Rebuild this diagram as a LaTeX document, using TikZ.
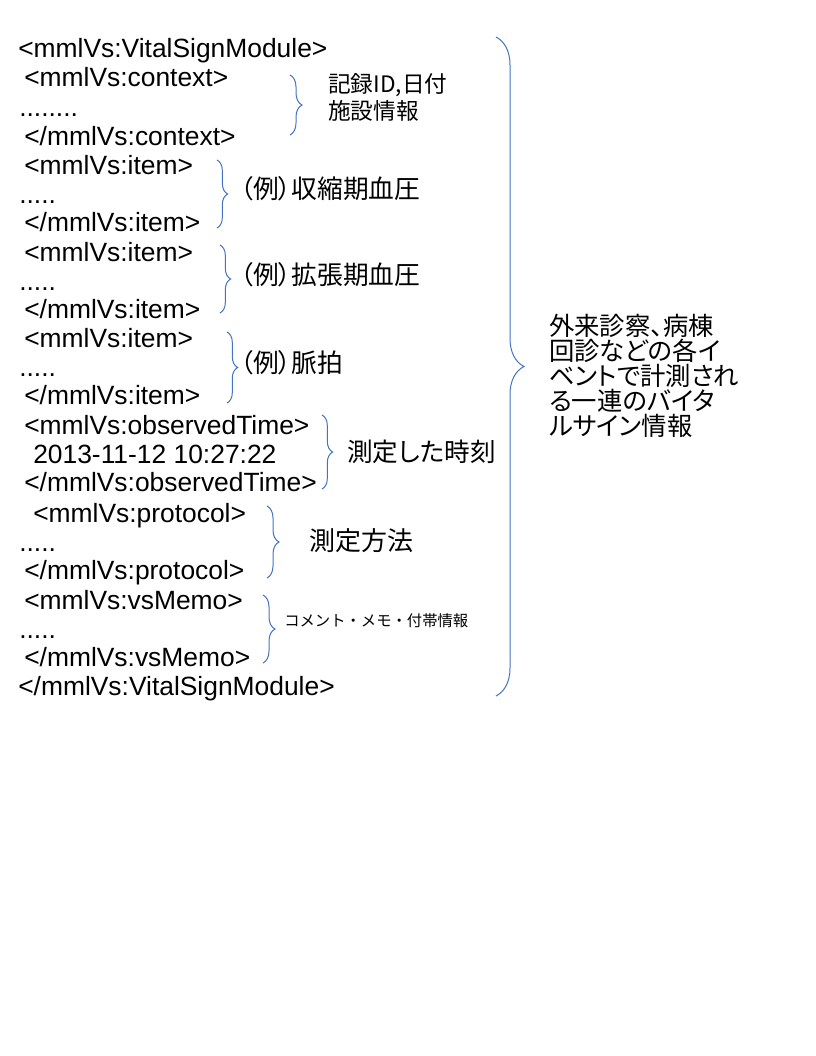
\documentclass[tikz,border=0pt]{standalone}
\usepackage{fontspec}
\setmainfont{Liberation Sans}
\newfontfamily\jpfont{Noto Sans CJK JP}
\newfontfamily\jppfont[RawFeature=+palt]{Noto Sans CJK JP}
\usetikzlibrary{decorations.pathreplacing}
\definecolor{braceblue}{RGB}{68,114,196}
\tikzset{
  tag/.style={anchor=base west,inner sep=0pt,font=\fontsize{19.8}{24}\selectfont},
  note/.style={anchor=base west,inner sep=0pt,align=left,font=\jppfont\fontsize{#1}{#1}\selectfont},
  brc/.style={draw=braceblue,line width=0.75pt,decorate,decoration={brace,amplitude=#1}}
}
\begin{document}
\begin{tikzpicture}[x=0.75pt,y=-0.75pt]
  \useasboundingbox[fill=white] (0,0) rectangle (816,1056);
  % xml lines
  \node[tag] (vsopen)     at (18,58)  {<mmlVs:VitalSignModule>};
  \node[tag] (ctxopen)    at (24,87)  {<mmlVs:context>};
  \node[tag] (ctxbody)    at (19,116) {........};
  \node[tag] (ctxclose)   at (24,145) {</mmlVs:context>};
  \node[tag] (itemaopen)  at (24,174) {<mmlVs:item>};
  \node[tag] (itemabody)  at (19,203) {.....};
  \node[tag] (itemaclose) at (24,231) {</mmlVs:item>};
  \node[tag] (itembopen)  at (24,261) {<mmlVs:item>};
  \node[tag] (itembbody)  at (19,290) {.....};
  \node[tag] (itembclose) at (24,318) {</mmlVs:item>};
  \node[tag] (itemcopen)  at (24,347) {<mmlVs:item>};
  \node[tag] (itemcbody)  at (19,376) {.....};
  \node[tag] (itemcclose) at (24,404) {</mmlVs:item>};
  \node[tag] (timeopen)   at (24,434) {<mmlVs:observedTime>};
  \node[tag] (timevalue)  at (33,463) {2013-11-12 10:27:22};
  \node[tag] (timeclose)  at (24,491) {</mmlVs:observedTime>};
  \node[tag] (protoopen)  at (33,522) {<mmlVs:protocol>};
  \node[tag] (protobody)  at (19,551) {.....};
  \node[tag] (protoclose) at (24,579) {</mmlVs:protocol>};
  \node[tag] (memoopen)   at (24,609) {<mmlVs:vsMemo>};
  \node[tag] (memobody)   at (19,638) {.....};
  \node[tag] (memoclose)  at (24,666) {</mmlVs:vsMemo>};
  \node[tag] (vsclose)    at (18,695) {</mmlVs:VitalSignModule>};
  % braces
  \draw[brc=9pt] (290,75) -- (290,135);
  \draw[brc=8pt] (217,160) -- (217,228);
  \draw[brc=8pt] (220,245) -- (220,313);
  \draw[brc=8pt] (227,332) -- (227,403);
  \draw[brc=8pt] (322,415) -- (322,489);
  \draw[brc=9pt] (267,506) -- (267,578);
  \draw[brc=9pt] (263,595) -- (263,663);
  \draw[brc=21pt] (496,37) -- (496,696);
  % notes
  \node[note=17] (ctxnote) at (328,119) {記録ID,日付\\[1pt]施設情報};
  \node[note=19.3] (sbpnote) at (240,198) {（例）収縮期血圧};
  \node[note=19.3] (dbpnote) at (240,284) {（例）拡張期血圧};
  \node[note=19.3] (pulsenote) at (240,372) {（例）脈拍};
  \node[note=19.2] (timenote) at (347,461) {測定した時刻};
  \node[note=19.5] (protonote) at (309,550) {測定方法};
  \node[anchor=base west,inner sep=0pt,font=\jpfont\fontsize{11.5}{11.5}\selectfont]
    (memonote) at (284,626) {コメント・メモ・付帯情報};
  \node[note=19,font=\jppfont\fontsize{19}{18.75}\selectfont] (vsnote) at (549,435)
    {外来診察、病棟\\回診などの各イ\\ベントで計測され\\る一連のバイタ\\ルサイン情報};
\end{tikzpicture}
\end{document}
